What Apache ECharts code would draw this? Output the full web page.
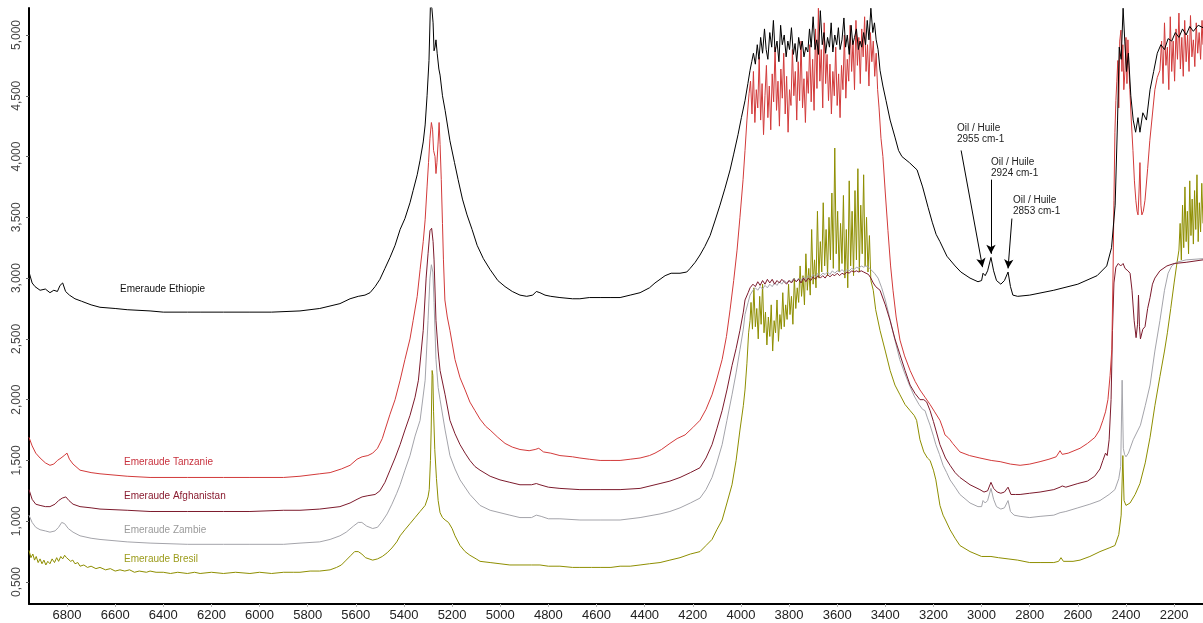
<!DOCTYPE html>
<html>
<head>
<meta charset="utf-8">
<script src="https://cdn.jsdelivr.net/npm/echarts@6/dist/echarts.min.js"></script>
<style>
html, body { margin: 0; padding: 0; background: #fff; }
#main { width: 1203px; height: 623px; }
</style>
</head>
<body>
<div id="main"></div>
<script>
// tick positions (cm-1 and absorbance)
var xTicks = [6800, 6600, 6400, 6200, 6000, 5800, 5600, 5400, 5200, 5000, 4800, 4600, 4400, 4200, 4000, 3800, 3600, 3400, 3200, 3000, 2800, 2600, 2400, 2200];
var yTicks = [0.5, 1, 1.5, 2, 2.5, 3, 3.5, 4, 4.5, 5];

var names = ['Emeraude Ethiopie', 'Emeraude Tanzanie', 'Emeraude Afghanistan', 'Emeraude Zambie', 'Emeraude Bresil'];

// [wavenumber, absorbance]
var ethiopie = [
  [6958,3.05],[6945,2.96],[6933,2.93],[6912,2.90],[6890,2.91],[6871,2.88],[6855,2.90],[6840,2.89],[6829,2.94],[6818,2.96],[6806,2.89],[6790,2.86],[6767,2.83],[6740,2.81],[6700,2.78],[6663,2.76],[6600,2.75],[6550,2.74],[6455,2.73],[6400,2.72],[6300,2.72],[6247,2.72],[6150,2.72],[6040,2.72],[5950,2.72],[5832,2.73],[5750,2.75],[5666,2.79],[5624,2.83],[5590,2.85],[5562,2.86],[5541,2.88],[5520,2.93],[5500,2.99],[5479,3.08],[5458,3.17],[5437,3.27],[5416,3.40],[5396,3.49],[5375,3.62],[5362,3.72],[5345,3.85],[5333,3.97],[5320,4.12],[5312,4.26],[5304,4.50],[5296,4.79],[5290,5.25],[5284,5.22],[5279,5.10],[5275,4.87],[5271,4.90],[5267,4.96],[5262,4.85],[5255,4.72],[5250,4.67],[5240,4.50],[5229,4.38],[5209,4.13],[5190,3.95],[5175,3.81],[5157,3.65],[5138,3.52],[5117,3.40],[5096,3.27],[5070,3.16],[5042,3.07],[5010,2.98],[4980,2.93],[4950,2.89],[4918,2.86],[4890,2.85],[4865,2.86],[4850,2.89],[4835,2.88],[4814,2.86],[4790,2.85],[4752,2.84],[4700,2.83],[4669,2.83],[4630,2.84],[4585,2.84],[4540,2.84],[4502,2.84],[4460,2.86],[4419,2.88],[4380,2.92],[4357,2.96],[4336,2.99],[4315,3.02],[4290,3.04],[4253,3.04],[4225,3.05],[4211,3.08],[4190,3.13],[4170,3.19],[4150,3.26],[4128,3.35],[4108,3.47],[4087,3.60],[4066,3.74],[4045,3.89],[4030,4.02],[4012,4.18],[3998,4.32],[3983,4.46],[3971,4.60],[3962,4.71],
  [3955,4.78],[3948,4.85],[3940,4.76],[3932,4.92],[3925,4.80],[3918,4.98],[3910,4.85],[3902,5.05],[3895,4.88],[3888,4.80],[3880,5.02],[3872,4.90],[3865,5.12],[3858,4.86],[3850,4.95],[3842,4.78],[3835,5.08],[3828,4.92],[3820,5.00],[3812,4.82],[3805,4.95],[3798,4.88],[3790,5.06],[3782,4.84],[3775,4.93],[3768,4.78],[3760,4.98],[3752,4.88],[3745,4.95],[3738,4.82],[3730,4.90],[3722,4.86],[3715,5.05],[3708,4.90],[3700,5.15],[3692,4.88],[3685,4.96],[3678,4.84],[3670,5.20],[3662,4.92],[3655,5.02],[3648,4.85],[3640,4.98],[3632,4.90],[3625,5.10],[3618,4.86],[3610,5.00],[3602,4.92],[3595,5.06],[3588,4.88],[3580,4.96],[3572,5.14],[3565,4.90],[3558,5.00],[3550,4.84],[3542,5.08],[3535,4.92],[3528,4.98],[3520,5.05],[3512,4.88],[3505,4.95],[3498,4.90],[3490,5.02],[3482,4.92],[3475,5.12],[3468,4.96],[3460,5.22],[3452,5.02],[3445,5.10],[3438,4.96],[3430,4.88],
  [3422,4.71],[3410,4.58],[3397,4.46],[3380,4.30],[3360,4.16],[3345,4.05],[3331,4.00],[3300,3.95],[3268,3.89],[3245,3.75],[3222,3.58],[3205,3.46],[3189,3.36],[3173,3.30],[3144,3.18],[3110,3.10],[3086,3.05],[3048,3.00],[3015,2.97],[3000,2.98],[2994,3.04],[2985,3.02],[2975,3.06],[2961,3.17],[2950,3.06],[2938,2.98],[2920,2.95],[2905,2.98],[2890,3.05],[2880,2.93],[2870,2.86],[2850,2.85],[2800,2.86],[2700,2.90],[2600,2.95],[2520,3.02],[2480,3.10],[2460,3.25],[2445,3.60],[2435,4.30],[2428,4.90],[2420,4.80],[2412,5.22],[2405,4.95],[2398,4.70],[2390,4.85],[2380,4.50],[2370,4.30],[2360,4.20],[2350,4.32],[2342,4.20],[2330,4.36],[2315,4.30],[2300,4.55],[2285,4.70],[2270,4.85],[2255,4.92],[2240,4.88],[2225,4.97],[2210,4.95],[2195,5.02],[2180,4.98],[2165,5.05],[2150,5.00],[2135,5.07],[2120,5.03],[2100,5.08],[2080,5.06]
];

var tanzanie = [
  [6958,1.69],[6945,1.62],[6930,1.56],[6912,1.52],[6890,1.48],[6871,1.46],[6855,1.47],[6840,1.50],[6825,1.52],[6812,1.54],[6800,1.56],[6790,1.51],[6775,1.47],[6746,1.42],[6700,1.40],[6663,1.39],[6550,1.37],[6455,1.36],[6300,1.36],[6150,1.36],[6040,1.36],[5900,1.36],[5832,1.37],[5750,1.39],[5707,1.40],[5660,1.43],[5624,1.46],[5595,1.51],[5574,1.53],[5550,1.54],[5530,1.56],[5510,1.60],[5490,1.68],[5479,1.75],[5458,1.88],[5437,2.00],[5416,2.16],[5396,2.33],[5375,2.50],[5362,2.65],[5345,2.85],[5333,3.07],[5320,3.30],[5312,3.48],[5304,3.75],[5298,3.95],[5292,4.15],[5286,4.28],[5281,4.22],[5277,4.05],[5271,4.00],[5267,3.86],[5263,3.95],[5258,4.12],[5254,4.28],[5250,4.10],[5245,3.81],[5240,3.45],[5236,3.15],[5230,2.82],[5220,2.68],[5209,2.57],[5188,2.33],[5167,2.18],[5146,2.08],[5126,1.98],[5105,1.91],[5084,1.84],[5060,1.78],[5042,1.75],[5010,1.69],[4980,1.64],[4950,1.61],[4918,1.59],[4880,1.58],[4855,1.59],[4840,1.60],[4820,1.57],[4790,1.56],[4752,1.54],[4700,1.53],[4669,1.52],[4630,1.51],[4585,1.50],[4540,1.50],[4502,1.50],[4460,1.51],[4419,1.52],[4380,1.54],[4357,1.56],[4330,1.59],[4295,1.64],[4265,1.68],[4232,1.71],[4200,1.77],[4170,1.83],[4145,1.92],[4120,2.04],[4100,2.17],[4078,2.33],[4060,2.52],[4045,2.74],[4030,2.98],[4016,3.23],[4004,3.50],[3991,3.81],[3983,4.05],[3975,4.30],[3966,4.52],
  [3960,4.62],[3954,4.35],[3948,4.70],[3942,4.28],[3936,4.55],[3930,4.40],[3924,4.82],[3918,4.30],[3912,4.60],[3906,4.18],[3900,4.50],[3894,4.75],[3888,4.32],[3882,4.58],[3876,4.22],[3870,4.68],[3864,4.45],[3858,4.90],[3852,4.38],[3846,4.62],[3840,4.25],[3834,4.72],[3828,4.48],[3822,4.85],[3816,4.35],[3810,4.66],[3804,4.20],[3798,4.55],[3792,4.42],[3786,4.88],[3780,4.50],[3774,4.70],[3768,4.30],[3762,4.78],[3756,4.46],[3750,4.95],[3744,4.40],[3738,4.64],[3732,4.28],[3726,4.70],[3720,4.52],[3714,4.92],[3708,4.45],[3702,4.80],[3696,4.38],[3690,5.05],[3684,4.56],[3678,5.22],[3672,4.62],[3666,4.88],[3660,4.40],[3654,5.10],[3648,4.60],[3642,4.84],[3636,4.46],[3630,4.76],[3624,4.35],[3618,4.70],[3612,4.50],[3606,4.90],[3600,4.42],[3594,4.68],[3588,4.32],[3582,4.75],[3576,4.55],[3570,5.00],[3564,4.48],[3558,4.80],[3552,4.62],[3546,5.08],[3540,4.70],[3534,4.95],[3528,4.55],[3522,5.12],[3516,4.75],[3510,4.98],[3504,4.60],[3498,5.05],[3492,4.82],[3486,5.15],[3480,4.70],[3474,4.92],[3468,4.58],[3462,5.02],[3456,4.78],[3450,4.95],[3444,4.66],[3438,4.85],[3432,4.55],
  [3426,4.40],[3418,4.15],[3410,4.00],[3400,3.70],[3389,3.39],[3378,3.10],[3368,2.90],[3355,2.68],[3339,2.49],[3320,2.36],[3297,2.24],[3276,2.15],[3256,2.08],[3235,2.02],[3214,1.96],[3195,1.90],[3173,1.83],[3160,1.76],[3152,1.71],[3140,1.69],[3131,1.67],[3120,1.64],[3090,1.57],[3050,1.54],[3007,1.52],[2960,1.50],[2923,1.49],[2880,1.47],[2840,1.46],[2800,1.47],[2757,1.49],[2720,1.51],[2690,1.53],[2674,1.58],[2665,1.55],[2640,1.56],[2591,1.60],[2560,1.64],[2529,1.69],[2510,1.75],[2496,1.83],[2485,1.90],[2475,2.00],[2466,2.20],[2459,2.41],[2454,3.00],[2450,3.64],[2446,4.20],[2442,4.46],[2438,4.62],[2434,4.79],[2430,4.40],[2426,4.95],[2421,5.04],[2417,4.70],[2413,4.92],[2409,4.55],[2404,4.71],[2400,4.98],[2396,4.60],[2392,4.96],[2388,4.75],[2384,4.55],[2378,4.30],[2371,4.05],[2365,3.80],[2359,3.64],[2354,3.55],[2350,3.52],[2346,3.70],[2342,3.95],[2338,3.60],[2334,3.52],[2328,3.55],[2321,3.64],[2310,3.90],[2301,4.13],[2290,4.35],[2280,4.55],[2270,4.65],[2259,4.71],
  [2252,4.95],[2246,4.60],[2240,5.10],[2234,4.75],[2228,4.90],[2222,4.55],[2216,5.15],[2210,4.70],[2204,4.95],[2198,4.62],[2192,5.05],[2186,4.80],[2180,5.18],[2174,4.72],[2168,4.98],[2162,4.66],[2156,5.12],[2150,4.78],[2144,5.00],[2138,4.70],[2132,5.16],[2126,4.82],[2120,4.96],[2114,4.74],[2108,5.10],[2102,4.85],[2096,5.02],[2090,4.80],[2084,5.12],[2080,4.92]
];

var afghanistan = [
  [6958,1.26],[6945,1.18],[6930,1.14],[6912,1.13],[6890,1.12],[6871,1.12],[6850,1.14],[6835,1.17],[6820,1.19],[6805,1.20],[6792,1.17],[6775,1.14],[6746,1.12],[6700,1.11],[6663,1.10],[6550,1.09],[6455,1.08],[6300,1.08],[6150,1.08],[6040,1.08],[5900,1.09],[5832,1.09],[5750,1.10],[5666,1.12],[5624,1.15],[5595,1.18],[5574,1.20],[5550,1.21],[5520,1.22],[5500,1.25],[5479,1.32],[5458,1.42],[5437,1.52],[5416,1.63],[5396,1.75],[5375,1.87],[5354,2.02],[5340,2.16],[5320,2.57],[5308,3.00],[5300,3.20],[5292,3.39],[5285,3.41],[5279,3.30],[5275,3.15],[5267,2.65],[5258,2.40],[5250,2.24],[5229,2.04],[5209,1.83],[5188,1.72],[5167,1.63],[5146,1.56],[5126,1.50],[5105,1.45],[5084,1.42],[5042,1.37],[5001,1.34],[4960,1.32],[4918,1.30],[4870,1.30],[4850,1.31],[4835,1.30],[4800,1.28],[4752,1.27],[4669,1.26],[4585,1.26],[4502,1.26],[4419,1.27],[4336,1.31],[4295,1.33],[4253,1.36],[4210,1.40],[4170,1.44],[4145,1.52],[4120,1.63],[4100,1.76],[4078,1.91],[4058,2.08],[4037,2.28],[4020,2.42],[4004,2.57],[3990,2.72],[3983,2.82],[3970,2.88],[3962,2.92],
  [3950,2.95],[3940,2.93],[3930,2.97],[3920,2.94],[3910,2.98],[3900,2.95],[3890,2.99],[3880,2.96],[3870,2.99],[3860,2.95],[3850,2.98],[3840,2.96],[3830,2.99],[3820,2.97],[3810,2.95],[3800,2.98],[3790,2.96],[3780,2.99],[3770,2.97],[3760,2.99],[3750,2.96],[3740,3.00],[3730,2.97],[3720,3.00],[3710,2.98],[3700,3.01],[3690,2.99],[3680,3.02],[3670,3.00],[3660,3.02],[3650,3.00],[3640,3.03],[3630,3.01],[3620,3.03],[3610,3.02],[3600,3.04],[3590,3.02],[3580,3.04],[3570,3.03],[3560,3.05],[3550,3.04],[3540,3.06],[3530,3.05],[3520,3.06],[3510,3.05],[3500,3.06],[3490,3.05],[3480,3.04],[3470,3.03],[3460,3.00],[3450,2.96],[3440,2.93],[3422,2.90],
  [3400,2.78],[3380,2.65],[3360,2.50],[3339,2.37],[3318,2.24],[3297,2.12],[3276,2.05],[3256,2.00],[3240,2.00],[3228,1.98],[3214,1.91],[3200,1.82],[3190,1.75],[3173,1.63],[3150,1.52],[3131,1.46],[3110,1.40],[3090,1.36],[3048,1.30],[3007,1.26],[2990,1.24],[2975,1.25],[2961,1.32],[2950,1.27],[2935,1.24],[2920,1.23],[2905,1.24],[2890,1.28],[2878,1.22],[2860,1.22],[2840,1.22],[2800,1.23],[2757,1.24],[2700,1.26],[2674,1.28],[2665,1.29],[2650,1.28],[2600,1.31],[2560,1.33],[2530,1.37],[2508,1.43],[2496,1.50],[2485,1.56],[2478,1.54],[2470,1.67],[2462,2.00],[2456,2.57],[2450,2.96],[2442,3.09],[2432,3.12],[2422,3.10],[2412,3.12],[2404,3.08],[2392,3.06],[2383,3.04],[2375,2.90],[2366,2.65],[2358,2.51],[2352,2.62],[2348,2.86],[2344,2.60],[2340,2.50],[2330,2.58],[2321,2.60],[2310,2.75],[2300,2.84],[2290,2.95],[2280,3.00],[2259,3.06],[2230,3.10],[2200,3.12],[2150,3.13],[2080,3.15]
];

var zambie = [
  [6958,1.05],[6945,0.99],[6930,0.95],[6912,0.93],[6890,0.92],[6871,0.91],[6850,0.92],[6835,0.95],[6822,0.99],[6810,0.98],[6795,0.94],[6775,0.91],[6746,0.88],[6700,0.86],[6663,0.85],[6550,0.83],[6455,0.82],[6300,0.81],[6150,0.81],[6040,0.81],[5900,0.81],[5832,0.82],[5750,0.83],[5707,0.85],[5666,0.88],[5640,0.91],[5610,0.96],[5590,0.99],[5575,0.99],[5555,0.96],[5530,0.94],[5510,0.95],[5490,1.00],[5470,1.06],[5450,1.14],[5430,1.23],[5416,1.30],[5396,1.42],[5375,1.54],[5354,1.70],[5333,1.83],[5312,2.16],[5300,2.65],[5292,3.00],[5286,3.11],[5280,3.05],[5275,2.80],[5267,2.33],[5258,2.10],[5250,2.00],[5229,1.75],[5209,1.54],[5188,1.43],[5167,1.34],[5126,1.22],[5084,1.13],[5042,1.09],[5001,1.07],[4960,1.05],[4918,1.03],[4870,1.03],[4850,1.05],[4830,1.04],[4800,1.02],[4752,1.02],[4669,1.01],[4585,1.01],[4502,1.01],[4419,1.03],[4336,1.06],[4295,1.08],[4253,1.11],[4210,1.15],[4170,1.19],[4145,1.26],[4120,1.36],[4100,1.48],[4078,1.63],[4058,1.83],[4037,2.04],[4020,2.22],[4004,2.41],[3990,2.58],[3983,2.70],[3970,2.80],[3962,2.86],
  [3950,2.90],[3940,2.92],[3930,2.90],[3920,2.93],[3910,2.91],[3900,2.94],[3890,2.92],[3880,2.95],[3870,2.93],[3860,2.96],[3850,2.94],[3840,2.97],[3830,2.95],[3820,2.98],[3810,2.96],[3800,2.98],[3790,2.97],[3780,3.00],[3770,2.97],[3760,3.00],[3750,2.98],[3740,3.01],[3730,2.99],[3720,3.02],[3710,3.00],[3700,3.03],[3690,3.01],[3680,3.04],[3670,3.02],[3660,3.04],[3650,3.03],[3640,3.05],[3630,3.03],[3620,3.06],[3610,3.04],[3600,3.06],[3590,3.05],[3580,3.07],[3570,3.05],[3560,3.07],[3550,3.06],[3540,3.08],[3530,3.07],[3520,3.09],[3510,3.08],[3500,3.10],[3490,3.09],[3480,3.10],[3470,3.09],[3460,3.07],[3445,3.04],[3430,3.00],
  [3415,2.92],[3400,2.82],[3385,2.70],[3370,2.57],[3355,2.45],[3340,2.33],[3320,2.22],[3300,2.12],[3280,2.03],[3260,1.96],[3245,1.92],[3235,1.91],[3225,1.85],[3214,1.79],[3200,1.70],[3190,1.63],[3175,1.55],[3160,1.46],[3145,1.40],[3131,1.34],[3110,1.28],[3090,1.22],[3048,1.15],[3015,1.12],[3000,1.12],[2994,1.17],[2985,1.15],[2975,1.17],[2961,1.27],[2950,1.18],[2938,1.12],[2920,1.10],[2905,1.11],[2890,1.17],[2880,1.08],[2865,1.05],[2840,1.04],[2800,1.03],[2757,1.04],[2700,1.05],[2674,1.07],[2650,1.08],[2600,1.11],[2550,1.14],[2508,1.17],[2470,1.22],[2446,1.26],[2430,1.35],[2422,1.45],[2416,2.16],[2411,1.60],[2406,1.55],[2400,1.53],[2390,1.56],[2370,1.67],[2340,1.79],[2320,1.95],[2300,2.12],[2280,2.40],[2259,2.65],[2240,2.90],[2225,3.04],[2210,3.10],[2190,3.13],[2150,3.15],[2080,3.16]
];

var bresil = [
  [6958,0.76],[6950,0.70],[6942,0.73],[6935,0.68],[6928,0.71],[6920,0.66],[6912,0.69],[6904,0.65],[6896,0.68],[6888,0.64],[6880,0.67],[6871,0.65],[6862,0.69],[6852,0.66],[6843,0.70],[6835,0.67],[6826,0.71],[6818,0.69],[6810,0.72],[6802,0.70],[6794,0.71],[6785,0.67],[6776,0.68],[6767,0.65],[6755,0.66],[6746,0.63],[6730,0.64],[6715,0.62],[6700,0.63],[6680,0.61],[6663,0.62],[6640,0.60],[6620,0.61],[6600,0.59],[6580,0.60],[6560,0.59],[6540,0.60],[6520,0.58],[6500,0.59],[6470,0.58],[6455,0.59],[6430,0.58],[6400,0.58],[6370,0.57],[6340,0.58],[6300,0.57],[6270,0.58],[6247,0.57],[6200,0.58],[6150,0.57],[6100,0.58],[6040,0.57],[6000,0.58],[5950,0.57],[5900,0.58],[5860,0.58],[5832,0.58],[5790,0.59],[5750,0.59],[5707,0.60],[5680,0.62],[5660,0.64],[5640,0.68],[5620,0.72],[5605,0.75],[5590,0.75],[5575,0.73],[5560,0.70],[5545,0.69],[5530,0.68],[5510,0.69],[5490,0.71],[5470,0.74],[5450,0.78],[5430,0.83],[5416,0.88],[5396,0.93],[5375,0.98],[5354,1.03],[5333,1.08],[5312,1.13],[5300,1.20],[5295,1.26],[5290,1.50],[5287,1.75],[5283,2.24],[5280,2.20],[5277,1.90],[5272,1.59],[5265,1.35],[5258,1.17],[5250,1.07],[5240,1.03],[5229,1.01],[5215,0.99],[5200,0.94],[5188,0.88],[5167,0.80],[5146,0.75],[5126,0.72],[5100,0.69],[5084,0.67],[5042,0.66],[5001,0.65],[4960,0.64],[4918,0.64],[4870,0.64],[4835,0.64],[4800,0.63],[4752,0.63],[4700,0.62],[4669,0.62],[4620,0.62],[4585,0.62],[4540,0.62],[4502,0.63],[4460,0.63],[4419,0.64],[4380,0.65],[4336,0.66],[4295,0.68],[4253,0.70],[4210,0.73],[4170,0.75],[4145,0.80],[4120,0.85],[4100,0.93],[4078,1.01],[4058,1.15],[4037,1.30],[4020,1.50],[4004,1.75],[3990,1.95],[3983,2.08],[3975,2.30],[3968,2.55],[3962,2.65],
  [3958,2.80],[3952,2.58],[3946,2.92],[3940,2.60],[3934,2.75],[3928,2.50],[3922,2.85],[3916,2.62],[3910,2.95],[3904,2.55],[3898,2.72],[3892,2.45],[3886,2.68],[3880,2.52],[3874,2.78],[3868,2.40],[3862,2.65],[3856,2.55],[3850,2.82],[3844,2.48],[3838,2.70],[3832,2.58],[3826,2.88],[3820,2.60],[3814,2.78],[3808,2.66],[3802,2.95],[3796,2.70],[3790,2.85],[3784,2.62],[3778,3.00],[3772,2.75],[3766,2.92],[3760,2.80],[3754,3.10],[3748,2.85],[3742,3.02],[3736,2.78],[3730,3.20],[3724,2.90],[3718,3.08],[3712,2.86],[3706,3.40],[3700,2.95],[3694,3.15],[3688,2.92],[3682,3.55],[3676,3.00],[3670,3.30],[3664,3.05],[3658,3.62],[3652,3.10],[3646,3.40],[3640,3.02],[3634,3.50],[3628,3.15],[3622,3.70],[3616,3.08],[3610,4.07],[3604,3.20],[3598,3.55],[3592,3.05],[3586,3.45],[3580,3.12],[3574,3.68],[3568,3.00],[3562,3.40],[3556,2.92],[3550,3.80],[3544,3.10],[3538,3.55],[3532,3.02],[3526,3.72],[3520,3.15],[3514,3.90],[3508,3.05],[3502,3.60],[3496,3.20],[3490,3.85],[3484,3.10],[3478,3.50],[3472,3.05],[3466,3.35],[3460,2.98],
  [3450,2.90],[3440,2.74],[3422,2.57],[3400,2.40],[3380,2.24],[3360,2.12],[3339,2.04],[3318,1.96],[3297,1.91],[3280,1.87],[3270,1.83],[3256,1.67],[3240,1.57],[3225,1.52],[3214,1.50],[3200,1.42],[3190,1.34],[3173,1.13],[3160,1.05],[3150,1.01],[3131,0.93],[3110,0.86],[3090,0.80],[3048,0.75],[3000,0.71],[2961,0.71],[2930,0.70],[2890,0.69],[2850,0.68],[2800,0.66],[2757,0.66],[2700,0.66],[2680,0.67],[2670,0.70],[2660,0.67],[2620,0.67],[2591,0.68],[2550,0.71],[2508,0.75],[2470,0.78],[2446,0.80],[2430,0.89],[2420,1.05],[2413,1.54],[2408,1.17],[2400,1.13],[2383,1.15],[2362,1.22],[2342,1.31],[2320,1.48],[2300,1.69],[2280,1.95],[2259,2.19],[2240,2.40],[2228,2.55],[2214,2.75],[2200,2.96],[2190,3.10],[2180,3.23],
  [2175,3.45],[2170,3.15],[2165,3.60],[2160,3.25],[2155,3.75],[2150,3.30],[2145,3.55],[2140,3.20],[2135,3.80],[2130,3.35],[2125,3.65],[2120,3.28],[2115,3.72],[2110,3.40],[2105,3.85],[2100,3.30],[2095,3.62],[2090,3.38],[2085,3.78],[2080,3.45]
];

// oil peak annotations: arrow start and arrow tip [cm-1, absorbance]
var oilLabels = ['Oil / Huile\n2955 cm-1', 'Oil / Huile\n2924 cm-1', 'Oil / Huile\n2853 cm-1'];
var oilArrows = [
  [[3085, 4.05], [2996, 3.09]],
  [[2961, 3.81], [2961, 3.20]],
  [[2874, 3.49], [2890, 3.08]]
];

var colors = ['#000000', '#d23a3a', '#7c1a2c', '#a4a4aa', '#8e8e00'];
var labelColors = ['#111111', '#c8323e', '#8a1c30', '#9a9a9a', '#9c9c1c'];

var myChart = echarts.init(document.getElementById('main'));

var allData = [ethiopie, tanzanie, afghanistan, zambie, bresil];
var series = [];
for (var i = 0; i < allData.length; i++) {
    series.push({
        name: names[i],
        type: 'line',
        data: allData[i],
        showSymbol: false,
        symbol: 'none',
        silent: true,
        z: 10 - i,
        lineStyle: {
            color: colors[i],
            width: 1
        }
    });
}
series[0].markLine = {
    silent: true,
    symbol: ['none', 'arrow'],
    symbolSize: [7, 9],
    lineStyle: { color: '#000', width: 1, type: 'solid' },
    label: { show: false },
    data: oilArrows.map(function (a) {
        return [{ coord: a[0] }, { coord: a[1] }];
    })
};

var labelPos = [[120, 290], [124, 463], [124, 497], [124, 531], [124, 560]];
var oilPos = [[957, 123], [991, 157], [1013, 195]];
var graphics = [];
for (var j = 0; j < names.length; j++) {
    graphics.push({
        type: 'text',
        left: labelPos[j][0],
        top: labelPos[j][1] - 6,
        style: {
            text: names[j],
            fill: labelColors[j],
            font: '10px "Liberation Sans", Arial, sans-serif'
        }
    });
}
for (var k = 0; k < oilLabels.length; k++) {
    graphics.push({
        type: 'text',
        left: oilPos[k][0],
        top: oilPos[k][1],
        style: {
            text: oilLabels[k],
            fill: '#222',
            font: '10px "Liberation Sans", Arial, sans-serif',
            lineHeight: 11
        }
    });
}

option = {
    backgroundColor: '#ffffff',
    animation: false,
    grid: {
        left: 29,
        right: 0,
        top: 8,
        bottom: 19
    },
    xAxis: {
        type: 'value',
        inverse: true,
        min: 2080,
        max: 6958,
        splitLine: { show: false },
        axisLine: { onZero: false, lineStyle: { color: '#000', width: 2 } },
        axisTick: { customValues: xTicks, length: 3, lineStyle: { color: '#bbb' } },
        axisLabel: {
            customValues: xTicks,
            color: '#222',
            fontSize: 13,
            fontFamily: '"Liberation Sans", Arial, sans-serif',
            margin: 5,
            formatter: function (v) {
                return String(v);
            }
        }
    },
    yAxis: {
        type: 'value',
        min: 0.319,
        max: 5.222,
        splitLine: { show: false },
        axisLine: { show: true, lineStyle: { color: '#000', width: 2 } },
        axisTick: { customValues: yTicks, length: 3, lineStyle: { color: '#666' } },
        axisLabel: {
            customValues: yTicks,
            rotate: 90,
            color: '#444',
            fontSize: 12,
            fontFamily: '"Liberation Sans", Arial, sans-serif',
            margin: 6,
            formatter: function (v) {
                return v.toFixed(3).replace('.', ',');
            }
        }
    },
    graphic: graphics,
    series: series
};
myChart.setOption(option);
window.onresize = function () {
    myChart.resize();
};
</script>
</body>
</html>
